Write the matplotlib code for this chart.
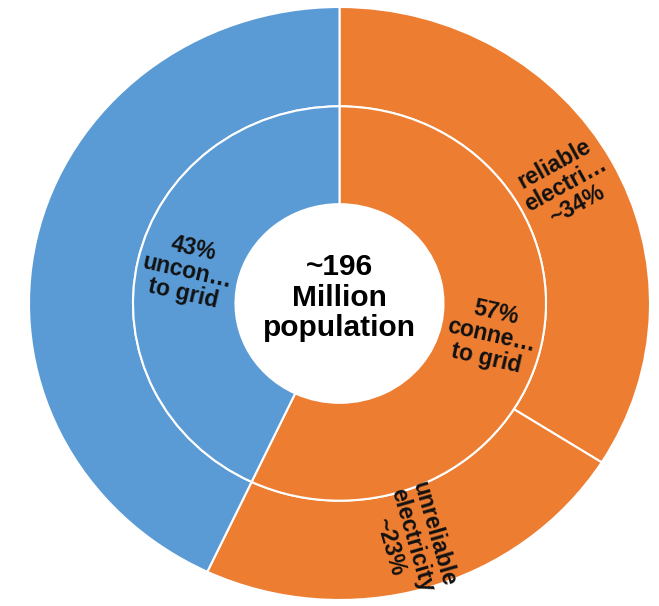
import numpy as np
import matplotlib
matplotlib.use("Agg")
import matplotlib.pyplot as plt

plt.rcParams['font.family'] = ['Liberation Sans', 'DejaVu Sans']

# ---- data ----
inner_names = ["connected to grid", "unconnected to grid"]
inner_values = [57, 43]
inner_text = ["57%\nconne\u2026\nto grid", "43%\nuncon\u2026\nto grid"]

outer_names = ["reliable electricity", "unreliable electricity", "unconnected to grid"]
outer_values = [34, 23, 43]
outer_text = ["reliable\nelectri\u2026\n~34%", "unreliable\nelectricity\n~23%", ""]

center_text = "~196\nMillion\npopulation"

BLUE = "#5B9BD5"
ORANGE = "#ED7D31"
inner_colors = [ORANGE, BLUE]
outer_colors = [ORANGE, ORANGE, BLUE]

fig = plt.figure(figsize=(6.59, 6.06), dpi=100)
ax = fig.add_axes([29/659, 6/606, 621/659, 593/606])

r_hole, r_mid, r_out = 0.335, 0.665, 1.0
wp = dict(edgecolor="white", linewidth=1.5)

ax.pie(outer_values, radius=r_out, colors=outer_colors, startangle=90,
       counterclock=False, wedgeprops=dict(width=r_out - r_mid, **wp))
ax.pie(inner_values, radius=r_mid, colors=inner_colors, startangle=90,
       counterclock=False, wedgeprops=dict(width=r_mid - r_hole, **wp))

ax.set_aspect('auto')
ax.set_xlim(-1.0, 1.0)
ax.set_ylim(-1.0, 1.0)
ax.axis('off')


def place_labels(values, texts, radius):
    total = float(sum(values))
    start = 0.0
    for v, t in zip(values, texts):
        mid = (start + v / 2.0) / total * 360.0  # clockwise from top
        start += v
        if not t:
            continue
        ang = 90.0 - mid  # math angle
        x = radius * np.cos(np.radians(ang))
        y = radius * np.sin(np.radians(ang))
        rot = ang
        while rot > 90:
            rot -= 180
        while rot < -90:
            rot += 180
        ax.text(x, y, t, ha='center', va='center', rotation=rot,
                rotation_mode='anchor', fontsize=16.5, fontweight='bold',
                color='#111111', linespacing=1.02, multialignment='center')


place_labels(inner_values, inner_text, (r_hole + r_mid) / 2)
place_labels(outer_values, outer_text, (r_mid + r_out) / 2)

ax.text(0, 0.02, center_text, ha='center', va='center', fontsize=21.5,
        fontweight='bold', color='black', linespacing=1.12)

fig.savefig("out.png", dpi=100)
